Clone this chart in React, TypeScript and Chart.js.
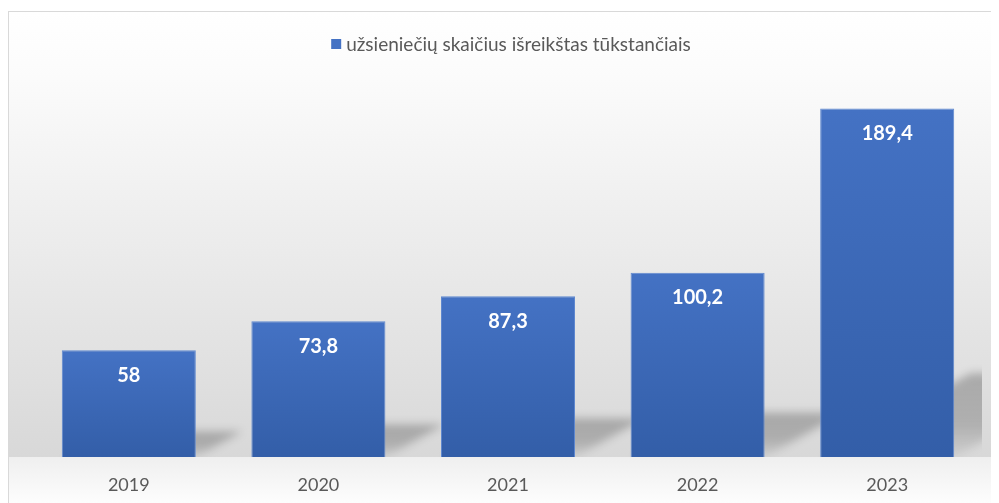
import React, { useEffect, useRef } from "react";
import { Chart, registerables } from "chart.js";

Chart.register(...registerables);

const categories = ["2019", "2020", "2021", "2022", "2023"];
const seriesLabel = "užsieniečių skaičius išreikštas tūkstančiais";
const values = [58, 73.8, 87.3, 100.2, 189.4];

const FONT = "Lato, 'Open Sans', sans-serif";
const BAR_TOP = "#4472C4";
const BAR_BOTTOM = "#335EA8";

const bgPlugin = {
  id: "bgGradient",
  beforeDraw(chart: any) {
    const { ctx, width, height } = chart;
    const base = chart.scales.y.getPixelForValue(0);
    ctx.save();
    const g1 = ctx.createLinearGradient(0, 0, 0, base);
    g1.addColorStop(0, "#ffffff");
    g1.addColorStop(0.15, "#fbfbfb");
    g1.addColorStop(1, "#d8d8d8");
    ctx.fillStyle = g1;
    ctx.fillRect(0, 0, width, base);
    const g2 = ctx.createLinearGradient(0, base, 0, height);
    g2.addColorStop(0, "#efefef");
    g2.addColorStop(1, "#fdfdfd");
    ctx.fillStyle = g2;
    ctx.fillRect(0, base, width, height - base);
    ctx.restore();
  },
};

const legendPlugin = {
  id: "customLegend",
  afterDraw(chart: any) {
    const { ctx } = chart;
    ctx.save();
    ctx.font = `19px ${FONT}`;
    const tw = ctx.measureText(seriesLabel).width;
    const box = 10;
    const gap = 5;
    const total = box + gap + tw;
    const cx = 502;
    const cy = 32;
    const x0 = cx - total / 2;
    ctx.fillStyle = BAR_TOP;
    ctx.fillRect(x0, cy - box / 2, box, box);
    ctx.fillStyle = "#595959";
    ctx.textBaseline = "middle";
    ctx.textAlign = "left";
    ctx.fillText(seriesLabel, x0 + box + gap, cy + 1);
    ctx.restore();
  },
};

const shadowPlugin = {
  id: "barShadow",
  beforeDatasetsDraw(chart: any) {
    const { ctx, chartArea } = chart;
    const meta = chart.getDatasetMeta(0);
    const base = chart.scales.y.getPixelForValue(0);
    ctx.save();
    ctx.beginPath();
    ctx.rect(chartArea.left, chartArea.top, chartArea.right - chartArea.left, base - chartArea.top);
    ctx.clip();
    ctx.filter = "blur(4px)";
    meta.data.forEach((bar: any) => {
      const w = bar.width;
      const h = base - bar.y;
      const xL = bar.x - w / 2;
      const xR = bar.x + w / 2;
      const dh = h * 0.24;
      const dx = dh * 1.8;
      const g = ctx.createLinearGradient(0, base - dh, 0, base);
      g.addColorStop(0, "rgba(0,0,0,0.24)");
      g.addColorStop(0.6, "rgba(0,0,0,0.2)");
      g.addColorStop(1, "rgba(0,0,0,0.04)");
      ctx.fillStyle = g;
      ctx.beginPath();
      ctx.moveTo(xL, base);
      ctx.lineTo(xR, base);
      ctx.lineTo(xR + dx, base - dh);
      ctx.lineTo(xL + dx, base - dh);
      ctx.closePath();
      ctx.fill();
    });
    ctx.restore();
  },
};

const labelPlugin = {
  id: "barLabels",
  afterDatasetsDraw(chart: any) {
    const { ctx } = chart;
    const meta = chart.getDatasetMeta(0);
    ctx.save();
    ctx.fillStyle = "#ffffff";
    ctx.font = `bold 20px ${FONT}`;
    ctx.textAlign = "center";
    ctx.textBaseline = "middle";
    meta.data.forEach((bar: any, i: number) => {
      const txt = String(values[i]).replace(".", ",");
      ctx.fillText(txt, bar.x, bar.y + 25);
    });
    ctx.restore();
  },
};

export default function App() {
  const ref = useRef<HTMLCanvasElement | null>(null);
  useEffect(() => {
    if (!ref.current) return;
    const chart = new Chart(ref.current, {
      type: "bar",
      data: {
        labels: categories,
        datasets: [
          {
            label: seriesLabel,
            data: values,
            backgroundColor: (c: any) => {
              const chartRef = c.chart;
              if (!chartRef.chartArea || c.type !== "data") return BAR_TOP;
              const y = chartRef.scales.y;
              const top = y.getPixelForValue(c.parsed.y);
              const bottom = y.getPixelForValue(0);
              const g = chartRef.ctx.createLinearGradient(0, top, 0, bottom);
              g.addColorStop(0, BAR_TOP);
              g.addColorStop(1, BAR_BOTTOM);
              return g;
            },
            borderColor: "#5f88cf",
            borderWidth: 1,
            barPercentage: 0.707,
            categoryPercentage: 1,
          },
        ],
      },
      options: {
        responsive: false,
        animation: false,
        layout: { padding: { left: 25, right: 17, top: 77, bottom: 0 } },
        plugins: {
          legend: { display: false },
          tooltip: { enabled: false },
        },
        scales: {
          x: {
            grid: { display: false, drawTicks: false },
            border: { display: false },
            ticks: { color: "#595959", font: { family: FONT, size: 18 }, padding: 17 },
            afterFit: (scale: any) => {
              scale.height = 46;
            },
          },
          y: {
            display: false,
            min: 0,
            max: 200,
          },
        },
      },
      plugins: [bgPlugin, shadowPlugin, labelPlugin, legendPlugin],
    });
    return () => chart.destroy();
  }, []);
  return (
    <div
      style={{
        marginTop: 3,
        width: 991,
        height: 492,
        borderTop: "1px solid #d9d9d9",
        borderLeft: "1px solid #d9d9d9",
        boxSizing: "border-box",
        overflow: "hidden",
      }}
    >
      <canvas ref={ref} width={990} height={491} style={{ display: "block" }} />
    </div>
  );
}
